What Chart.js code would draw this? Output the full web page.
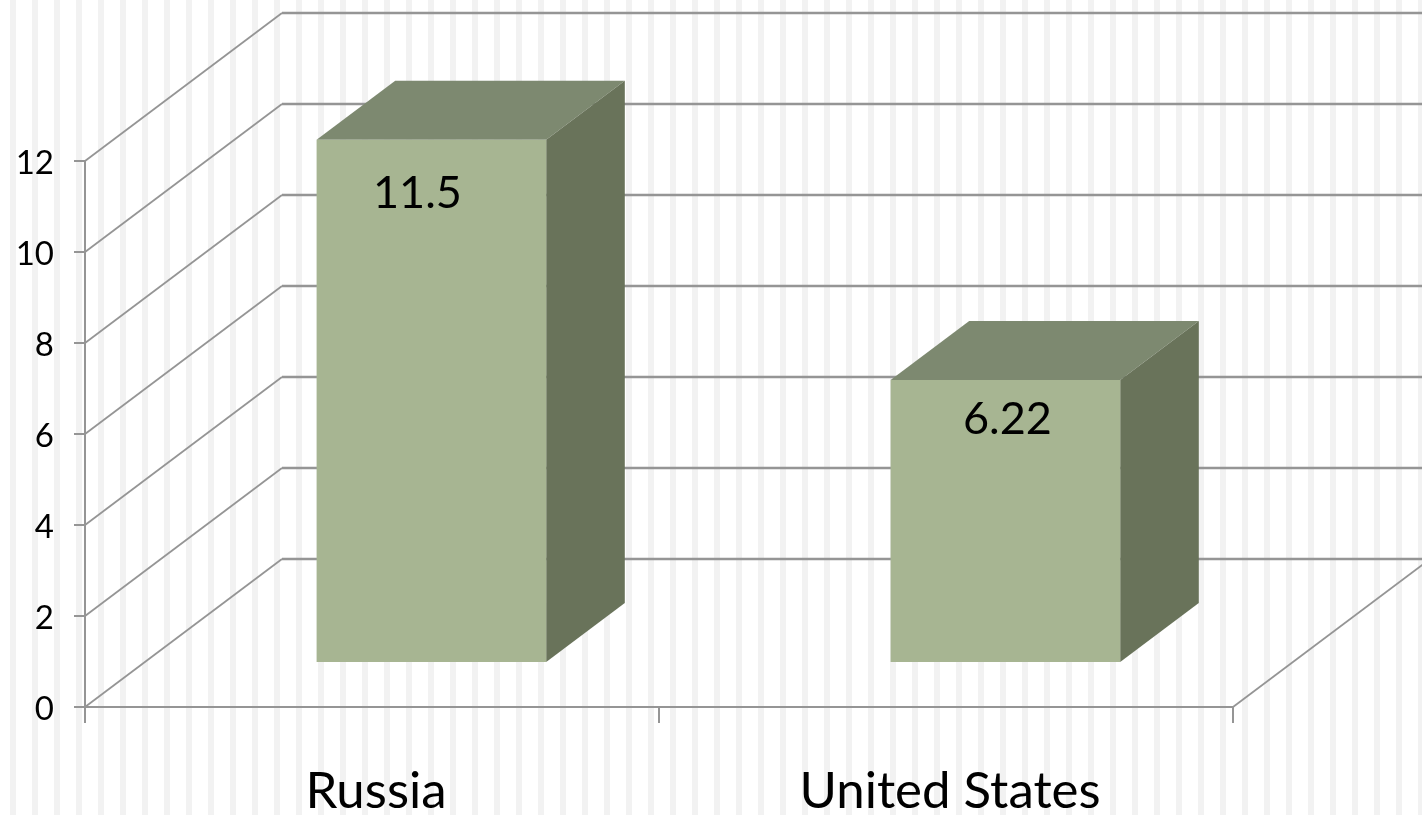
<!DOCTYPE html>
<html>
<head>
<meta charset="utf-8">
<title>Russia and United States</title>
<script src="https://cdn.jsdelivr.net/npm/chart.js@4"></script>
<style>
  html, body { margin: 0; padding: 0; }
  body {
    width: 1422px;
    height: 815px;
    overflow: hidden;
    background: repeating-linear-gradient(90deg, #fff 0 10px, #f2f2f2 10px 16px, #fff 16px 22px);
  }
  canvas { display: block; }
</style>
</head>
<body>
<canvas id="barChart" width="1422" height="815"></canvas>
<script>
const categories = ['Russia', 'United States'];
const values = [11.5, 6.22];
const valueLabels = ['11.5', '6.22'];
const yMax = 12;
const yStep = 2;

const FONT = 'Lato, sans-serif';
const GRID = '#959595';

// depth of the floor and of the boxes standing on it
const wall = { x: 197, y: -148 };
const boxShift = { x: 59.4, y: -44 };
const boxDepth = { x: 78.6, y: -59 };
const labelNudge = [{ x: -14, y: 54 }, { x: 2, y: 39 }];

// left wall, floor and back wall lines
const wallPlugin = {
  id: 'wall',
  beforeDatasetsDraw(chart) {
    const { ctx, scales: { x, y } } = chart;
    ctx.save();
    ctx.strokeStyle = GRID;
    y.ticks.forEach(t => {
      const py = y.getPixelForValue(t.value);
      ctx.lineWidth = 1.8;
      ctx.beginPath();
      ctx.moveTo(x.left, py);
      ctx.lineTo(x.left + wall.x, py + wall.y);
      ctx.stroke();
      ctx.lineWidth = 2.4;
      ctx.beginPath();
      ctx.moveTo(x.left + wall.x, Math.round(py + wall.y));
      ctx.lineTo(x.right + wall.x, Math.round(py + wall.y));
      ctx.stroke();
    });
    const py0 = y.getPixelForValue(0);
    ctx.lineWidth = 1.8;
    ctx.beginPath();
    ctx.moveTo(x.right, py0);
    ctx.lineTo(x.right + wall.x, py0 + wall.y);
    ctx.stroke();
    ctx.restore();
  }
};

// the library draws the front of each bar, this adds top and side
const boxPlugin = {
  id: 'box',
  beforeDatasetDraw(chart, args) {
    const { ctx } = chart;
    ctx.save();
    ctx.translate(boxShift.x, boxShift.y);
    args.meta.data.forEach(bar => {
      const left = bar.x - bar.width / 2;
      const right = bar.x + bar.width / 2;
      ctx.fillStyle = '#7d8970';
      ctx.beginPath();
      ctx.moveTo(left, bar.y);
      ctx.lineTo(left + boxDepth.x, bar.y + boxDepth.y);
      ctx.lineTo(right + boxDepth.x, bar.y + boxDepth.y);
      ctx.lineTo(right, bar.y);
      ctx.closePath();
      ctx.fill();
      ctx.fillStyle = '#69735a';
      ctx.beginPath();
      ctx.moveTo(right, bar.y);
      ctx.lineTo(right + boxDepth.x, bar.y + boxDepth.y);
      ctx.lineTo(right + boxDepth.x, bar.base + boxDepth.y);
      ctx.lineTo(right, bar.base);
      ctx.closePath();
      ctx.fill();
    });
  },
  afterDatasetDraw(chart, args) {
    const { ctx } = chart;
    ctx.restore();
    ctx.save();
    ctx.fillStyle = '#000';
    ctx.font = '45px ' + FONT;
    ctx.textAlign = 'center';
    ctx.textBaseline = 'middle';
    args.meta.data.forEach((bar, i) => {
      ctx.fillText(valueLabels[i], bar.x + boxShift.x + labelNudge[i].x, bar.y + boxShift.y + labelNudge[i].y);
    });
    ctx.restore();
  }
};

new Chart(document.getElementById('barChart'), {
  type: 'bar',
  data: {
    labels: categories,
    datasets: [{
      data: values,
      backgroundColor: '#a7b592',
      borderWidth: 0,
      barPercentage: 0.4,
      categoryPercentage: 1,
      clip: false
    }]
  },
  options: {
    responsive: false,
    animation: false,
    layout: { padding: { top: 161, right: 189, left: 0, bottom: 0 } },
    plugins: { legend: { display: false }, tooltip: { enabled: false } },
    scales: {
      x: {
        grid: { drawOnChartArea: false, color: GRID, lineWidth: 2, tickLength: 16 },
        border: { color: GRID, width: 2 },
        ticks: { color: '#000', font: { family: FONT, size: 51 }, padding: 38, labelOffset: 4, maxRotation: 0 },
        afterFit(scale) {
          scale.height = 108;
          scale.paddingLeft = 0;
          scale.paddingRight = 0;
        }
      },
      y: {
        min: 0,
        max: yMax,
        ticks: { stepSize: yStep, color: '#000', font: { family: FONT, size: 33 }, padding: 20, labelOffset: 2 },
        grid: { drawOnChartArea: false, color: GRID, lineWidth: 2, tickLength: 11 },
        border: { color: GRID, width: 2 },
        afterFit(scale) {
          scale.width = 85;
          scale.paddingTop = 0;
          scale.paddingBottom = 0;
        }
      }
    }
  },
  plugins: [wallPlugin, boxPlugin]
});
</script>
</body>
</html>
